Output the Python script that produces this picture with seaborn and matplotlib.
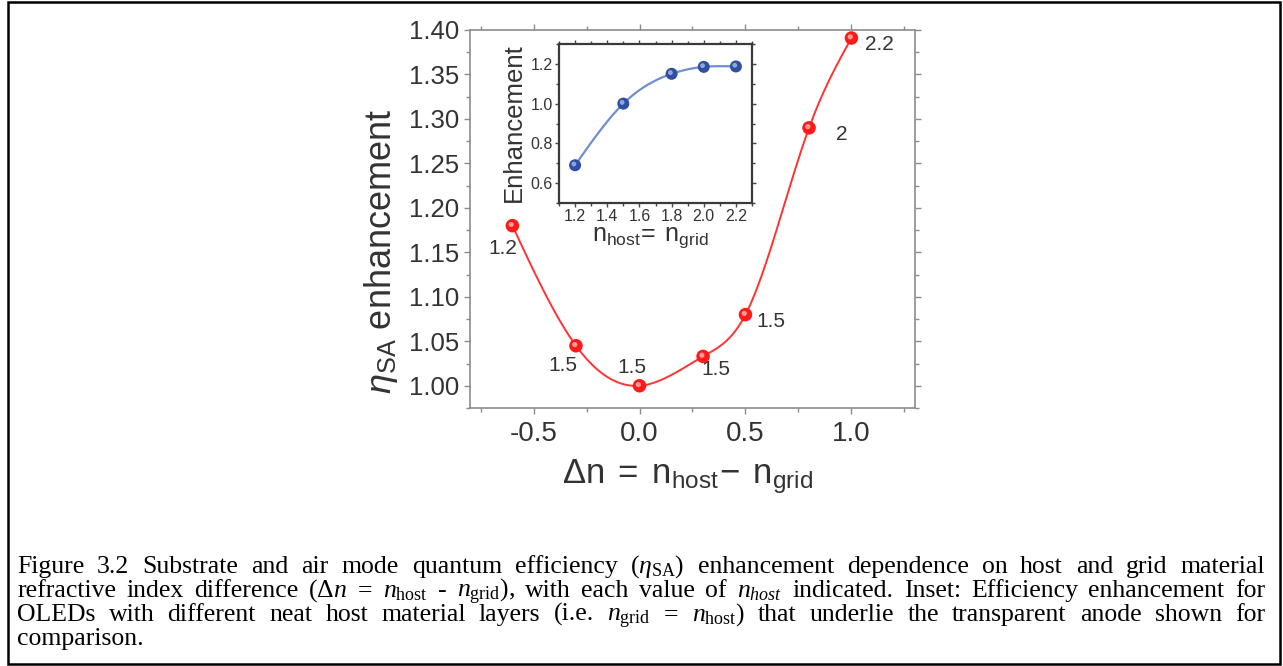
import numpy as np
import pandas as pd
import matplotlib
matplotlib.use("Agg")
import matplotlib.pyplot as plt
import seaborn as sns
from matplotlib.ticker import MultipleLocator, FormatStrFormatter
from matplotlib.patches import Rectangle
from matplotlib.transforms import ScaledTranslation

# Substrate + air mode enhancement versus host/grid index contrast
delta_n = [-0.6, -0.3, 0.0, 0.3, 0.5, 0.8, 1.0]
eta_sa = [1.18, 1.045, 1.00, 1.033, 1.08, 1.29, 1.391]
n_host_labels = ["1.2", "1.5", "1.5", "1.5", "1.5", "2", "2.2"]

# Neat host layers (n_grid = n_host)
n_neat = [1.2, 1.5, 1.8, 2.0, 2.2]
enh_neat = [0.69, 1.00, 1.15, 1.185, 1.187]

# Where each n_host label sits relative to its point (pixels: right, up)
label_offsets = [(-10, -23), (-13, -20), (-8, 18), (13, -13), (25, -7), (33, -7), (28, -6)]

caption_lines = [
    ["Figure", "3.2", "Substrate", "and", "air", "mode", "quantum", "efficiency",
     r"($\eta_{\mathrm{SA}}$)", "enhancement", "dependence", "on", "host", "and",
     "grid", "material"],
    ["refractive", "index", "difference", r"($\Delta n$", "=", r"$n_{\mathrm{host}}$",
     "-", r"$n_{\mathrm{grid}}$),", "with", "each", "value", "of", r"$n_{host}$",
     "indicated.", "Inset:", "Efficiency", "enhancement", "for"],
    ["OLEDs", "with", "different", "neat", "host", "material", "layers", "(i.e.",
     r"$n_{\mathrm{grid}}$", "=", r"$n_{\mathrm{host}}$)", "that", "underlie", "the",
     "transparent", "anode", "shown", "for"],
    ["comparison."],
]

W, H = 1283, 666

sns.set_style("ticks")
plt.rcParams["font.family"] = ["Liberation Sans", "DejaVu Sans"]
plt.rcParams["axes.unicode_minus"] = False
plt.rcParams["mathtext.fontset"] = "custom"
plt.rcParams["mathtext.rm"] = "Liberation Serif"
plt.rcParams["mathtext.it"] = "Liberation Serif:italic"
plt.rcParams["mathtext.sf"] = "Liberation Sans"
plt.rcParams["mathtext.bf"] = "Liberation Sans:italic"


def natural_spline(x, y, num=400):
    x = np.asarray(x, float)
    y = np.asarray(y, float)
    n = len(x)
    h = np.diff(x)
    A = np.zeros((n, n))
    b = np.zeros(n)
    A[0, 0] = A[-1, -1] = 1.0
    for i in range(1, n - 1):
        A[i, i - 1] = h[i - 1]
        A[i, i] = 2 * (h[i - 1] + h[i])
        A[i, i + 1] = h[i]
        b[i] = 3 * ((y[i + 1] - y[i]) / h[i] - (y[i] - y[i - 1]) / h[i - 1])
    c = np.linalg.solve(A, b)
    xs = np.linspace(x[0], x[-1], num)
    idx = np.clip(np.searchsorted(x, xs) - 1, 0, n - 2)
    dx = xs - x[idx]
    bc = (y[idx + 1] - y[idx]) / h[idx] - h[idx] * (2 * c[idx] + c[idx + 1]) / 3
    d = (c[idx + 1] - c[idx]) / (3 * h[idx])
    return xs, y[idx] + bc * dx + c[idx] * dx ** 2 + d * dx ** 3


def px_box(left, top, right, bottom):
    return [left / W, 1 - bottom / H, (right - left) / W, (bottom - top) / H]


def ball_markers(ax, df, x, y, body, shine, size, hsize):
    sns.scatterplot(data=df, x=x, y=y, ax=ax, color=body, s=size,
                    edgecolor="none", zorder=4, legend=False)
    sns.scatterplot(data=df, x=x, y=y, ax=ax, color=shine, s=hsize,
                    edgecolor="none", zorder=5, legend=False)
    coll = ax.collections[-1]
    coll.set_offset_transform(ax.transData +
                              ScaledTranslation(-1.2 / 100, 1.2 / 100, ax.figure.dpi_scale_trans))


fig = plt.figure(figsize=(W / 100, H / 100), dpi=100)

# ---------------- main panel ----------------
ax = fig.add_axes(px_box(470, 30, 915, 408))
main_df = pd.DataFrame({"dn": delta_n, "eta": eta_sa})
sx, sy = natural_spline(delta_n, eta_sa)
curve_df = pd.DataFrame({"dn": sx, "eta": sy})
sns.lineplot(data=curve_df, x="dn", y="eta", ax=ax, color="#ff3333", lw=1.4,
             sort=False, estimator=None, zorder=3)
ball_markers(ax, main_df, "dn", "eta", "#ff1a1a", "#ff9a9a", 95, 14)

for xv, yv, lab, (ox, oy) in zip(delta_n, eta_sa, n_host_labels, label_offsets):
    ax.annotate(lab, (xv, yv), xytext=(ox, oy), textcoords="offset pixels",
                ha="center", va="center", fontsize=15, color="#333333")

ax.set_xlim(-0.8, 1.3)
ax.set_ylim(0.975, 1.40)
ax.xaxis.set_major_locator(MultipleLocator(0.5))
ax.xaxis.set_minor_locator(MultipleLocator(0.25))
ax.yaxis.set_major_locator(MultipleLocator(0.05))
ax.yaxis.set_minor_locator(MultipleLocator(0.025))
ax.xaxis.set_major_formatter(FormatStrFormatter("%.1f"))
ax.yaxis.set_major_formatter(FormatStrFormatter("%.2f"))
ax.tick_params(which="both", direction="out", top=True, right=True,
               color="#8c8c8c", width=1.0, labelcolor="#333333")
ax.tick_params(which="major", length=4.5)
ax.tick_params(which="minor", length=2.8)
ax.tick_params(axis="x", which="major", labelsize=20, pad=5)
ax.tick_params(axis="y", which="major", labelsize=18.5, pad=3)
for sp in ax.spines.values():
    sp.set_visible(True)
    sp.set_color("#8c8c8c")
    sp.set_linewidth(1.2)
ax.set_xlabel("")
ax.set_ylabel("")

fig.text(381 / W, 1 - 251 / H, r"$\mathbf{\eta}_{\mathsf{SA}}$ enhancement",
         rotation=90, ha="center", va="center", fontsize=26, color="#333333")
fig.text(688 / W, 1 - 483 / H, r"$\mathsf{\Delta n\ =\ n_{host}\!-\ n_{grid}}$",
         ha="center", va="baseline", fontsize=25, color="#333333")

# ---------------- inset ----------------
ins = fig.add_axes(px_box(559, 44, 752, 203))
inset_df = pd.DataFrame({"n": n_neat, "enh": enh_neat})
ix, iy = natural_spline(n_neat, enh_neat)
sns.lineplot(data=pd.DataFrame({"n": ix, "enh": iy}), x="n", y="enh", ax=ins,
             color="#6f8fd0", lw=1.6, sort=False, estimator=None, zorder=3)
ball_markers(ins, inset_df, "n", "enh", "#2e4fa3", "#8fa6dc", 75, 12)
ins.set_xlim(1.1, 2.3)
ins.set_ylim(0.5, 1.3)
ins.xaxis.set_major_locator(MultipleLocator(0.2))
ins.xaxis.set_minor_locator(MultipleLocator(0.1))
ins.yaxis.set_major_locator(MultipleLocator(0.2))
ins.yaxis.set_minor_locator(MultipleLocator(0.1))
ins.xaxis.set_major_formatter(FormatStrFormatter("%.1f"))
ins.yaxis.set_major_formatter(FormatStrFormatter("%.1f"))
ins.tick_params(which="both", direction="out", top=True, right=True,
                color="#444444", width=1.0, labelcolor="#333333", labelsize=11.5)
ins.tick_params(which="major", length=3.0, pad=1.5)
ins.tick_params(which="minor", length=2.0)
for sp in ins.spines.values():
    sp.set_visible(True)
    sp.set_color("#3a3a3a")
    sp.set_linewidth(1.6)
ins.set_xlabel("")
ins.set_ylabel("")
fig.text(514 / W, 1 - 122.5 / H, "Enhancement", rotation=90, ha="center",
         va="center", fontsize=18.5, color="#333333")
fig.text(650 / W, 1 - 241 / H, r"$\mathsf{n_{host}\!=\ n_{grid}}$",
         ha="center", va="baseline", fontsize=18, color="#333333")

# ---------------- caption (justified) ----------------
cap_left, cap_right = 17, 1265
baselines = [573, 597, 621, 645]
cap_size = 18.5
renderer = fig.canvas.get_renderer()
for li, words in enumerate(caption_lines):
    texts = [fig.text(0, 1 - baselines[li] / H, w, family="Liberation Serif",
                      fontsize=cap_size, color="black", va="baseline", ha="left")
             for w in words]
    widths = [t.get_window_extent(renderer).width for t in texts]
    last = li == len(caption_lines) - 1
    if last or len(words) == 1:
        gap = 6.0
    else:
        gap = (cap_right - cap_left - sum(widths)) / (len(words) - 1)
    xpos = cap_left
    for t, wd in zip(texts, widths):
        t.set_x(xpos / W)
        xpos += wd + gap

# frame around the figure
fig.patches.append(Rectangle((8 / W, 2 / H), (1280 - 8) / W, (664 - 2) / H,
                             transform=fig.transFigure, fill=False,
                             lw=1.8, ec="black"))

fig.savefig("out.png", dpi=100)
